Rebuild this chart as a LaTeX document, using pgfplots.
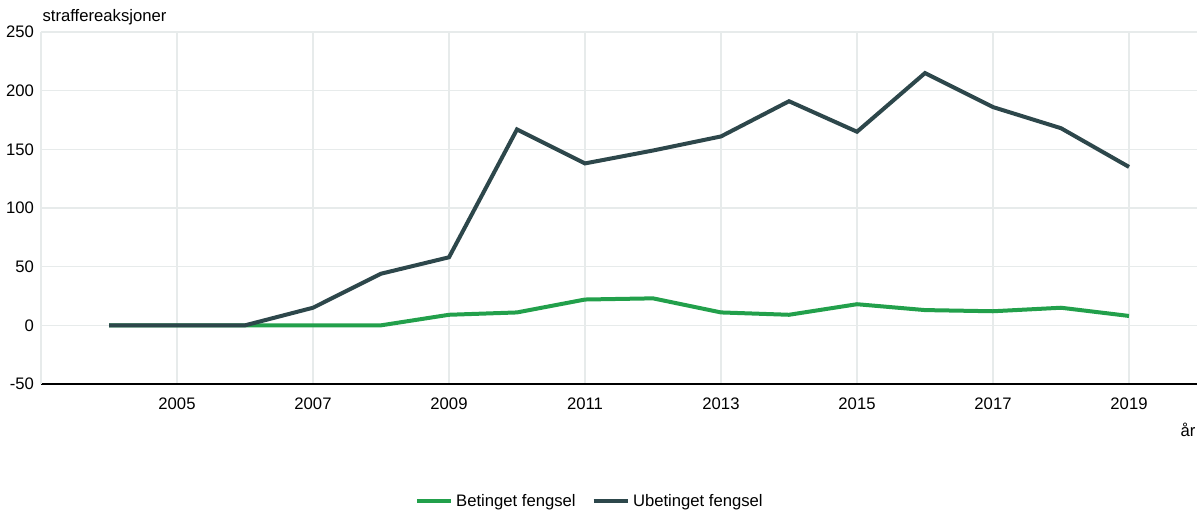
\documentclass[border=0pt]{standalone}
\usepackage{pgfplots}
\pgfplotsset{compat=1.18}
\usepackage{fontspec}
\setmainfont{Liberation Sans}
\definecolor{dark}{HTML}{2D474B}
\definecolor{grn}{HTML}{22A04B}
\definecolor{gridc}{HTML}{E7EBEB}
\begin{document}
\fontsize{12.5}{14}\selectfont
\begin{tikzpicture}
\begin{axis}[
  scale only axis,
  width=867pt, height=264pt,
  xmin=2003, xmax=2020,
  ymin=-50, ymax=250,
  xtick={2005,2007,...,2019},
  ytick={-50,0,...,250},
  grid=major,
  major grid style={gridc, line width=0.9pt},
  axis x line*=bottom,
  axis y line*=left,
  y axis line style={draw=none},
  x axis line style={black, line width=1.5pt, -},
  major tick length=0pt,
  tick style={draw=none},
  /pgf/number format/assume math mode=true,
  /pgf/number format/1000 sep={},
  xticklabel style={font=\fontsize{12.5}{14}\selectfont, yshift=-6pt},
  yticklabel style={font=\fontsize{12.5}{14}\selectfont, xshift=-1pt},
  clip=false,
  legend style={draw=none, fill=none, at={(0.475,-0.333)}, anchor=center,
    legend columns=2, font=\fontsize{12.5}{14}\selectfont,
    /tikz/every even column/.append style={column sep=10pt}},
  legend image code/.code={\draw[#1, line width=3pt] (0pt,0pt) -- (26pt,0pt);},
]
\addplot[grn, line width=3pt] coordinates {
(2004,0) (2005,0) (2006,0) (2007,0) (2008,0) (2009,9) (2010,11) (2011,22)
(2012,23) (2013,11) (2014,9) (2015,18) (2016,13) (2017,12) (2018,15) (2019,8)};
\addlegendentry{Betinget fengsel}
\addplot[dark, line width=3pt] coordinates {
(2004,0) (2005,0) (2006,0) (2007,15) (2008,44) (2009,58) (2010,167) (2011,138)
(2012,149) (2013,161) (2014,191) (2015,165) (2016,215) (2017,186) (2018,168) (2019,135)};
\addlegendentry{Ubetinget fengsel}
\draw[gridc, line width=0.9pt] (axis cs:2003,-50) -- (axis cs:2003,250);
\node[anchor=south west, inner sep=0pt, font=\fontsize{12.5}{14}\selectfont] at ([xshift=1pt,yshift=5pt]rel axis cs:0,1) {straffereaksjoner};
\node[anchor=north east, inner sep=0pt, font=\fontsize{12.5}{14}\selectfont] at ([xshift=-1pt,yshift=-29pt]rel axis cs:1,0) {år};
\end{axis}
\pgfresetboundingbox
\path (current axis.south west) ++(-30.75pt,-95.25pt) rectangle ++(899.25pt,383.25pt);
\end{tikzpicture}
\end{document}
